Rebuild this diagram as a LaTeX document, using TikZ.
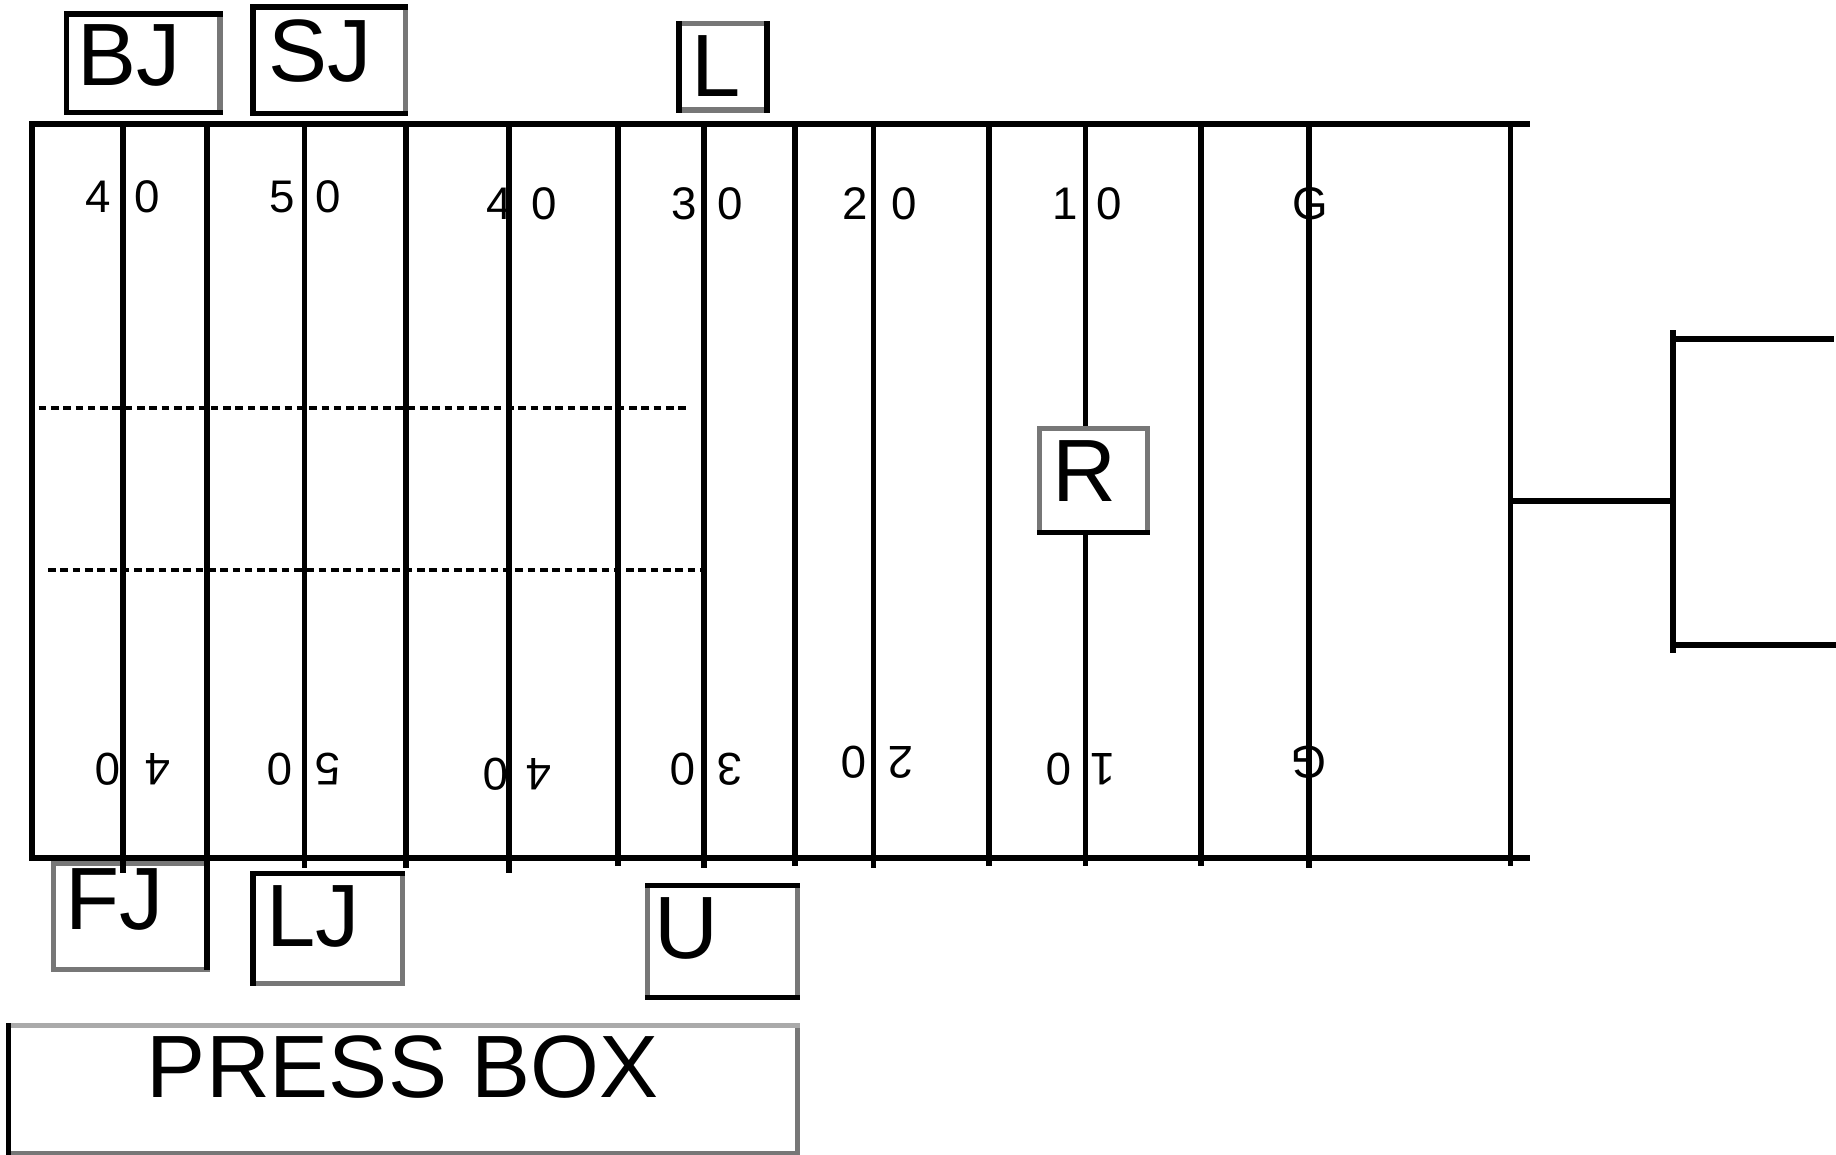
\documentclass[tikz,border=0pt]{standalone}
\usepackage{fontspec}
\setmainfont{Liberation Sans}
\definecolor{gmid}{HTML}{777777}
\definecolor{glight}{HTML}{AAAAAA}
\begin{document}
\begin{tikzpicture}[x=0.01cm,y=-0.01cm,
  fld/.style={line width=0.05cm},
  bx/.style={line width=0.045cm, line cap=rect},
  gbx/.style={line width=0.045cm, line cap=rect, draw=gmid, fill=white},
  lab/.style={inner sep=0pt, anchor=north west, font=\fontsize{21.5pt}{24pt}\selectfont},
  num/.style={inner sep=0pt, font=\fontsize{11.1pt}{13pt}\selectfont},
  unum/.style={num, rotate=180},
  dsh/.style={line width=0.035cm, dash pattern=on 0.065cm off 0.04cm}]
\useasboundingbox (0,0) rectangle (1568,986);

% ---- boxes below the field ----
% FJ
\draw[gbx] (45.5,737) rectangle (177,828);
% LJ
\draw[gbx] (216,746) rectangle (344,840);
\draw[bx] (344,746) -- (216,746) -- (216,840);
% U
\draw[gbx] (553,756) rectangle (681,852);
\draw[bx] (553,756) -- (681,756);
\draw[bx] (553,852) -- (681,852);
% PRESS BOX
\draw[gbx] (7,876) rectangle (681,985);
\draw[bx, draw=glight] (7,876) -- (681,876);
\draw[bx] (7,876) -- (7,985);

% ---- field ----
\draw[fld] (25,106) -- (1307,106);
\draw[fld] (25,733) -- (1307,733);
\draw[fld] (27,104) -- (27,735);
\foreach \xx/\yy in {105/746,177/828,260/741,347/741,435/746,528/740,601/741,679/740,746/741,845/740,927/740,1026/740,1118/741,1290/740}
  \draw[fld] (\xx,104) -- (\xx,\yy);

\draw[dsh] (33,348.6) -- (589,348.6);
\draw[dsh] (41,487) -- (599,487);

% ---- goal posts ----
\draw[fld] (1290,428) -- (1429,428);
\draw[fld] (1429,282) -- (1429,558);
\draw[fld] (1429,289.5) -- (1566,289.5);
\draw[fld] (1429,551) -- (1568,551);

% ---- boxes above / in the field ----
% BJ
\draw[gbx] (57,12) rectangle (188,96);
\draw[bx] (188,12) -- (57,12) -- (57,96) -- (188,96);
% SJ
\draw[gbx] (216,6) rectangle (346,97);
\draw[bx] (346,6) -- (216,6) -- (216,97) -- (346,97);
% L
\draw[gbx] (580,20) rectangle (655,94);
\draw[bx] (580,20) -- (580,94);
\draw[bx] (655,20) -- (655,94);
% R
\draw[gbx] (888,366) rectangle (980,455);
\draw[bx] (888,455) -- (980,455);

% ---- labels ----
\node[lab] (bj) at (65.5,20) {BJ};
\node[lab] (sj) at (228.5,16) {SJ};
\node[lab] (l) at (589.5,30) {L};
\node[lab] (r) at (898,376) {R};
\node[lab] (fj) at (55.5,741) {FJ};
\node[lab] (lj) at (226.5,756) {LJ};
\node[lab] (u) at (558,766) {U};
\node[lab, anchor=north] (press) at (344,884) {PRESS BOX};

% ---- yard numbers (top) ----
\node[num] (t1a) at (84,168) {4};
\node[num] (t1b) at (126,168) {0};
\node[num] (t2a) at (241,168) {5};
\node[num] (t2b) at (280,168) {0};
\node[num] (t3a) at (426,174) {4};
\node[num] (t3b) at (464.5,174) {0};
\node[num] (t4a) at (584,174) {3};
\node[num] (t4b) at (624,174) {0};
\node[num] (t5a) at (730,174) {2};
\node[num] (t5b) at (772,174) {0};
\node[num] (t6a) at (910,174) {1};
\node[num] (t6b) at (947,174) {0};
\node[num] (t7) at (1119,174) {G};

% ---- yard numbers (bottom, upside down) ----
\node[unum] (b1a) at (92,657) {0};
\node[unum] (b1b) at (135,657) {4};
\node[unum] (b2a) at (239,657) {0};
\node[unum] (b2b) at (280,657) {5};
\node[unum] (b3a) at (423,661) {0};
\node[unum] (b3b) at (460.5,661) {4};
\node[unum] (b4a) at (583,657) {0};
\node[unum] (b4b) at (623,657) {3};
\node[unum] (b5a) at (729,651) {0};
\node[unum] (b5b) at (769,651) {2};
\node[unum] (b6a) at (904,657) {0};
\node[unum] (b6b) at (941.5,657) {1};
\node[unum] (b7) at (1118,651) {G};
\end{tikzpicture}
\end{document}
